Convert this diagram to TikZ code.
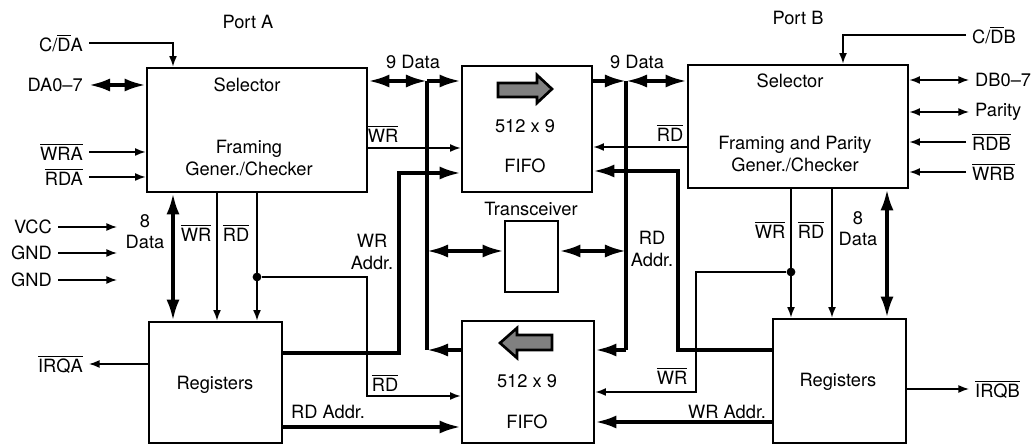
\documentclass[tikz,border=0pt]{standalone}
\usepackage{fontspec}
\setmainfont{TeX Gyre Heros}
\usepackage{tikz}
\usetikzlibrary{arrows.meta,calc,fit}
\newcommand{\ovl}[1]{$\overline{\mbox{#1}}$}
\tikzset{
  every node/.style={font=\fontsize{10.4}{12}\selectfont},
  blk/.style={draw,line width=1.6pt,inner sep=0pt},
  sig/.style={line width=0.8pt,-{Latex[length=6pt,width=4.5pt]}},
  sigboth/.style={line width=0.8pt,{Latex[length=6pt,width=4.5pt]}-{Latex[length=6pt,width=4.5pt]}},
  bus/.style={line width=2pt},
  busto/.style={bus,-{Latex[length=12pt,width=7.5pt]}},
  busboth/.style={bus,{Latex[length=12pt,width=7.5pt]}-{Latex[length=12pt,width=7.5pt]}},
  dot/.style={circle,fill,inner sep=0pt,minimum size=5pt},
  glyph/.style={draw,line width=1.5pt,fill=black!50,line join=miter},
}

\begin{document}
\begin{tikzpicture}[x=0.02cm,y=-0.02cm]
  \useasboundingbox (0,0) rectangle (1036,445);
  % blocks
  \node[blk,fit={(147,68) (367,192)}] (selA) {};
  \node[blk,fit={(462,66) (592,192)}] (fifoT) {};
  \node[blk,fit={(688,65) (908,188)}] (selB) {};
  \node[blk,fit={(505,221) (558,292)}] (xcvr) {};
  \node[blk,fit={(462,321) (594,443)}] (fifoB) {};
  \node[blk,fit={(149,322) (282,443)}] (regA) {};
  \node[blk,fit={(773,319) (906,443)}] (regB) {};
  % texts in the blocks
  \node (portA) at (248,22) {Port A};
  \node (portB) at (798,18) {Port B};
  \node (selAt) at (247,85) {Selector};
  \node[align=center] (selAf) at (249,158) {Framing\\Gener./Checker};
  \node (selBt) at (790,81) {Selector};
  \node[align=center] (selBf) at (795,154) {Framing and Parity\\Gener./Checker};
  \node (fifoTs) at (525,126) {512 x 9};
  \node (fifoTn) at (525,166) {FIFO};
  \node (fifoBs) at (527,381) {512 x 9};
  \node (fifoBn) at (527,422) {FIFO};
  \node (regAt) at (215,385) {Registers};
  \node (regBt) at (838,382) {Registers};
  \node (xcvrt) at (531,209) {Transceiver};
  \draw[glyph] (498,83) -- (537,83) -- (537,75) -- (552,89) -- (537,103) -- (537,97) -- (498,97) -- cycle;
  \draw[glyph] (552,335) -- (517,335) -- (517,328) -- (500,343) -- (517,358) -- (517,350) -- (552,350) -- cycle;

  % port A side
  \node[anchor=east] (cdA) at (89,43) {C/\ovl{D}A};
  \node[anchor=east] (daA) at (89,85) {DA0--7};
  \node[anchor=east] (wrA) at (89,152) {\ovl{WRA}};
  \node[anchor=east] (rdA) at (89,177) {\ovl{RDA}};
  \node[anchor=east] (vcc) at (58,227) {VCC};
  \node[anchor=east] (gnd1) at (58,253) {GND};
  \node[anchor=east] (gnd2) at (58,280) {GND};
  \node[anchor=east] (irqA) at (89,364) {\ovl{IRQA}};
  \draw[sig] (cdA.east) -| (selA.north -| 173,0);
  \draw[busboth] (daA.east) -- (selA.west |- daA.east);
  \draw[sig] (wrA.east) -- (selA.west |- wrA.east);
  \draw[sig] (rdA.east) -- (selA.west |- rdA.east);
  \draw[sig] (vcc.east) -- ++(59,0);
  \draw[sig] (gnd1.east) -- ++(59,0);
  \draw[sig] (gnd2.east) -- ++(59,0);
  \draw[sig] (regA.west |- irqA.east) -- (irqA.east);

  \node[align=center] (d8A) at (145,232) {8\\Data};
  \node (wrAl) at (196,233) {\ovl{WR}};
  \node (rdAl) at (236,233) {\ovl{RD}};
  \draw[busboth] (selA.south -| 173,0) -- (regA.north -| 173,0);
  \draw[sig] (selA.south -| 217,0) -- (regA.north -| 217,0);
  \draw[sig] (selA.south -| 257,0) -- (regA.north -| 257,0);
  \node[dot] (tapA) at (257,277) {};
  \draw[sig] (tapA) -| (367,396) -- (fifoB.west |- 0,396);
  \node (rdAb) at (385,383) {\ovl{RD}};
  \draw[busto] (regA.east |- 0,353) -| (399,173) -- (fifoT.west |- 0,173);
  \node[align=center] (wraA) at (372,252) {WR\\Addr.};
  \draw[busto] (regA.east |- 0,427) -- (fifoB.west |- 0,427);
  \node (rdaA) at (328,412) {RD Addr.};

  % data buses
  \coordinate (busLt) at (427,81);
  \coordinate (busLm) at (427,251);
  \coordinate (busLb) at (427,350);
  \coordinate (busRt) at (626,81);
  \coordinate (busRm) at (626,251);
  \coordinate (busRb) at (626,350);
  \node (d9A) at (413,62) {9 Data};
  \node (d9B) at (637,62) {9 Data};
  \draw[busboth] (selA.east |- busLt) -- (busLt);
  \draw[busto] (busLt) -- (fifoT.west |- busLt);
  \draw[bus] (busLt) -- (busLb);
  \draw[busto] (fifoB.west |- busLb) -- (busLb);
  \draw[busboth] (busLm) -- (xcvr.west |- busLm);
  \draw[busboth] (xcvr.east |- busRm) -- (busRm);
  \draw[busto] (fifoT.east |- busRt) -- (busRt);
  \draw[busboth] (busRt) -- (selB.west |- busRt);
  \draw[bus] (busRt) -- (busRb);
  \draw[busto] (busRb) -- (fifoB.east |- busRb);
  \draw[sig] (selA.east |- 0,148) -- (fifoT.west |- 0,148);
  \node (wrT) at (383,134) {\ovl{WR}};
  \draw[sig] (selB.west |- 0,147) -- (fifoT.east |- 0,147);
  \node (rdT) at (670,133) {\ovl{RD}};
  \draw[busto] (regB.west |- 0,350) -| (678,171) -- (fifoT.east |- 0,171);
  \node[align=center] (rdaB) at (652,249) {RD\\Addr.};

  % port B side
  \node[anchor=west] (cdB) at (966,35) {C/\ovl{D}B};
  \node[anchor=west] (dbB) at (969,80) {DB0--7};
  \node[anchor=west] (parB) at (969,112) {Parity};
  \node[anchor=west] (rdB) at (966,142) {\ovl{RDB}};
  \node[anchor=west] (wrB) at (966,172) {\ovl{WRB}};
  \node[anchor=west] (irqB) at (969,389) {\ovl{IRQB}};
  \draw[sig] (cdB.west) -| (selB.north -| 843,0);
  \draw[sigboth] (selB.east |- dbB.west) -- (dbB.west);
  \draw[sigboth] (selB.east |- parB.west) -- (parB.west);
  \draw[sig] (rdB.west) -- (selB.east |- rdB.west);
  \draw[sig] (wrB.west) -- (selB.east |- wrB.west);
  \draw[sig] (regB.east |- irqB.west) -- (irqB.west);

  \node (wrBl) at (770,230) {\ovl{WR}};
  \node (rdBl) at (811,230) {\ovl{RD}};
  \node[align=center] (d8B) at (858,229) {8\\Data};
  \draw[sig] (selB.south -| 791,0) -- (regB.north -| 791,0);
  \draw[sig] (selB.south -| 832,0) -- (regB.north -| 832,0);
  \draw[busboth] (selB.south -| 887,0) -- (regB.north -| 887,0);
  \node[dot] (tapB) at (791,272) {};
  \draw[sig] (tapB) -| (696,392) -- (fifoB.east |- 0,392);
  \node (wrBb) at (672,376) {\ovl{WR}};
  \draw[busto] (regB.west |- 0,422) -- (fifoB.east |- 0,422);
  \node (wraB) at (727,412) {WR Addr.};
\end{tikzpicture}
\end{document}
